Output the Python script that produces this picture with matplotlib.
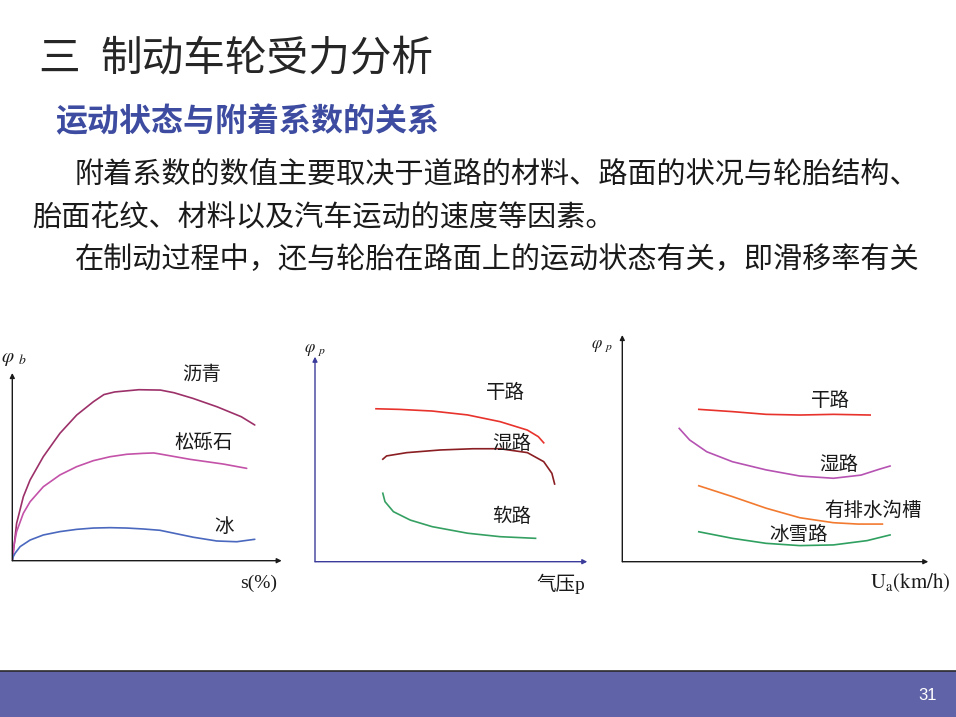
import matplotlib
matplotlib.use('Agg')
import matplotlib.pyplot as plt
from matplotlib.patches import Rectangle

plt.rcParams['font.family'] = ['Noto Sans CJK SC', 'DejaVu Sans']
plt.rcParams['mathtext.fontset'] = 'stix'

W, H = 956, 717

# ---- chart 1: phi_b vs slip s(%) ----
s_asphalt = [0, 0.9, 1.6, 4.1, 6.6, 11.5, 15.9, 17.7, 23.9, 30.1, 34.0, 38, 47, 55, 60, 67, 76, 85, 90]
phi_asphalt = [0, 0.11, 0.199, 0.341, 0.43, 0.554, 0.643, 0.679, 0.776, 0.847, 0.885, 0.899, 0.911, 0.909, 0.895, 0.865, 0.82, 0.767, 0.723]
s_gravel = [0, 0.6, 1.6, 4.1, 6.6, 11.5, 17.7, 23.9, 30.1, 36.3, 42.5, 48.6, 52.5, 54.2, 66, 78.3, 87]
phi_gravel = [0, 0.08, 0.155, 0.253, 0.314, 0.394, 0.457, 0.501, 0.533, 0.554, 0.567, 0.572, 0.574, 0.570, 0.54, 0.515, 0.492]
s_ice = [0, 0.3, 1.0, 2.9, 6.6, 11.5, 17.7, 23.9, 30.1, 36.3, 42.5, 48.6, 54.8, 67.2, 75.9, 83.3, 90]
phi_ice = [0, 0.02, 0.039, 0.075, 0.110, 0.137, 0.155, 0.167, 0.174, 0.176, 0.174, 0.169, 0.162, 0.125, 0.105, 0.101, 0.114]

# ---- chart 2: phi_p vs tyre pressure ----
p_dry = [22.4, 31, 43, 56, 68, 78, 82, 84]
phi_dry2 = [0.746, 0.743, 0.735, 0.716, 0.683, 0.642, 0.610, 0.580]
p_wet = [24.9, 26.3, 33.7, 46, 58, 68, 78, 84, 87, 88]
phi_wet2 = [0.500, 0.516, 0.532, 0.545, 0.551, 0.551, 0.532, 0.488, 0.431, 0.379]
p_soft = [24.9, 25.7, 28.8, 35, 43, 56, 68, 81]
phi_soft = [0.334, 0.293, 0.244, 0.203, 0.171, 0.139, 0.122, 0.114]

# ---- chart 3: phi_p vs speed Ua ----
u_dry = [25, 36, 47, 58, 69, 81]
phi_dry3 = [0.672, 0.662, 0.650, 0.647, 0.650, 0.647]
u_wet = [18.6, 22, 27.6, 36, 47, 58, 69, 78, 84, 87.5]
phi_wet3 = [0.588, 0.537, 0.485, 0.441, 0.405, 0.378, 0.368, 0.382, 0.408, 0.422]
u_groove = [25, 36, 47, 58, 69, 77, 85]
phi_groove = [0.335, 0.287, 0.236, 0.194, 0.172, 0.166, 0.166]
u_snow = [25, 36, 47, 58, 69, 80, 87.5]
phi_snow = [0.132, 0.103, 0.081, 0.071, 0.074, 0.093, 0.118]

fig = plt.figure(figsize=(W / 100, H / 100), dpi=100)


def fx(x):
    return x / W


def fy(y):
    return 1 - y / H


def make_ax(x0, y0, x1, y1, axcol):
    # x0,y0 = origin pixel, x1 = x arrow end, y1 = y arrow top
    ax = fig.add_axes([fx(x0), fy(y0), (x1 - x0) / W, (y0 - y1) / H])
    ax.set_xlim(0, 100)
    ax.set_ylim(0, 1)
    ax.axis('off')
    arr = dict(arrowstyle='-|>', mutation_scale=7, lw=1.0, color=axcol, shrinkA=0, shrinkB=0)
    ax.annotate('', xy=(1, 0), xytext=(0, 0), xycoords='axes fraction', arrowprops=arr)
    ax.annotate('', xy=(0, 1), xytext=(0, 0), xycoords='axes fraction', arrowprops=arr)
    return ax


ax1 = make_ax(12.3, 560.7, 281.7, 373, '#1a1a1a')
ax1.plot(s_asphalt, phi_asphalt, color='#9c3169', lw=1.2, solid_capstyle='round')
ax1.plot(s_gravel, phi_gravel, color='#c352a8', lw=1.2, solid_capstyle='round')
ax1.plot(s_ice, phi_ice, color='#4a68be', lw=1.2, solid_capstyle='round')

ax2 = make_ax(315, 561.7, 587.3, 356.7, '#3b3b9b')
ax2.plot(p_dry, phi_dry2, color='#e8322c', lw=1.2)
ax2.plot(p_wet, phi_wet2, color='#8a1e22', lw=1.2)
ax2.plot(p_soft, phi_soft, color='#35a062', lw=1.2)

ax3 = make_ax(622.3, 561.7, 928.3, 335, '#1a1a1a')
ax3.plot(u_dry, phi_dry3, color='#e8322c', lw=1.2)
ax3.plot(u_wet, phi_wet3, color='#b652b2', lw=1.2)
ax3.plot(u_groove, phi_groove, color='#f27a30', lw=1.2)
ax3.plot(u_snow, phi_snow, color='#2fa060', lw=1.2)


def t(x, y, s, **kw):
    fig.text(fx(x), fy(y), s, **kw)


# header
t(38, 59, '三', fontsize=30, color='#262626', va='center')
t(100, 59, '制动车轮受力分析', fontsize=30, color='#262626', va='center')
t(55, 122, '运动状态与附着系数的关系', fontsize=23, color='#3d4ca0', weight='bold', va='center')
t(75, 176, '附着系数的数值主要取决于道路的材料、路面的状况与轮胎结构、', fontsize=21, color='#1a1a1a', va='center')
t(32, 217, '胎面花纹、材料以及汽车运动的速度等因素。', fontsize=21, color='#1a1a1a', va='center')
t(75, 260, '在制动过程中，还与轮胎在路面上的运动状态有关，即滑移率有关', fontsize=21, color='#1a1a1a', va='center')

# chart labels
lab = dict(fontsize=14, color='#1a1a1a', ha='center', va='center')
t(202, 375, '沥青', **lab)
t(204, 443, '松砾石', **lab)
t(224, 526, '冰', **lab)
t(505, 392, '干路', **lab)
t(512, 444, '湿路', **lab)
t(512, 517, '软路', **lab)
t(830, 400, '干路', **lab)
t(839, 464, '湿路', **lab)
t(873, 510, '有排水沟槽', **lab)
t(798, 534, '冰雪路', **lab)

serif = ['Liberation Serif', 'Noto Sans CJK SC']
t(259, 583, 's(%)', fontsize=14, color='#1a1a1a', ha='center', va='center', family=serif)
t(561, 584, '气压p', fontsize=14, color='#1a1a1a', ha='center', va='center', family=serif)
t(910, 583, r'$\mathrm{U_a(km/h)}$', fontsize=15, color='#1a1a1a', ha='center', va='center')
t(14, 357, r'$\varphi\ _{b}$', fontsize=14, color='#1a1a1a', ha='center', va='center')
t(315, 349, r'$\varphi\ _{p}$', fontsize=12, color='#1a1a1a', ha='center', va='center')
t(602, 345, r'$\varphi\ _{p}$', fontsize=12, color='#1a1a1a', ha='center', va='center')

# footer bar
fig.patches.append(Rectangle((0, 0), 1, fy(671), transform=fig.transFigure,
                             facecolor='#6163a8', edgecolor='none'))
fig.lines.append(plt.Line2D([0, 1], [fy(671), fy(671)], transform=fig.transFigure,
                            color='#2a2a2a', lw=1.2))
t(928, 695, '31', fontsize=12, color='white', ha='center', va='center', family=['Liberation Sans'])

fig.savefig('out.png', dpi=100)
